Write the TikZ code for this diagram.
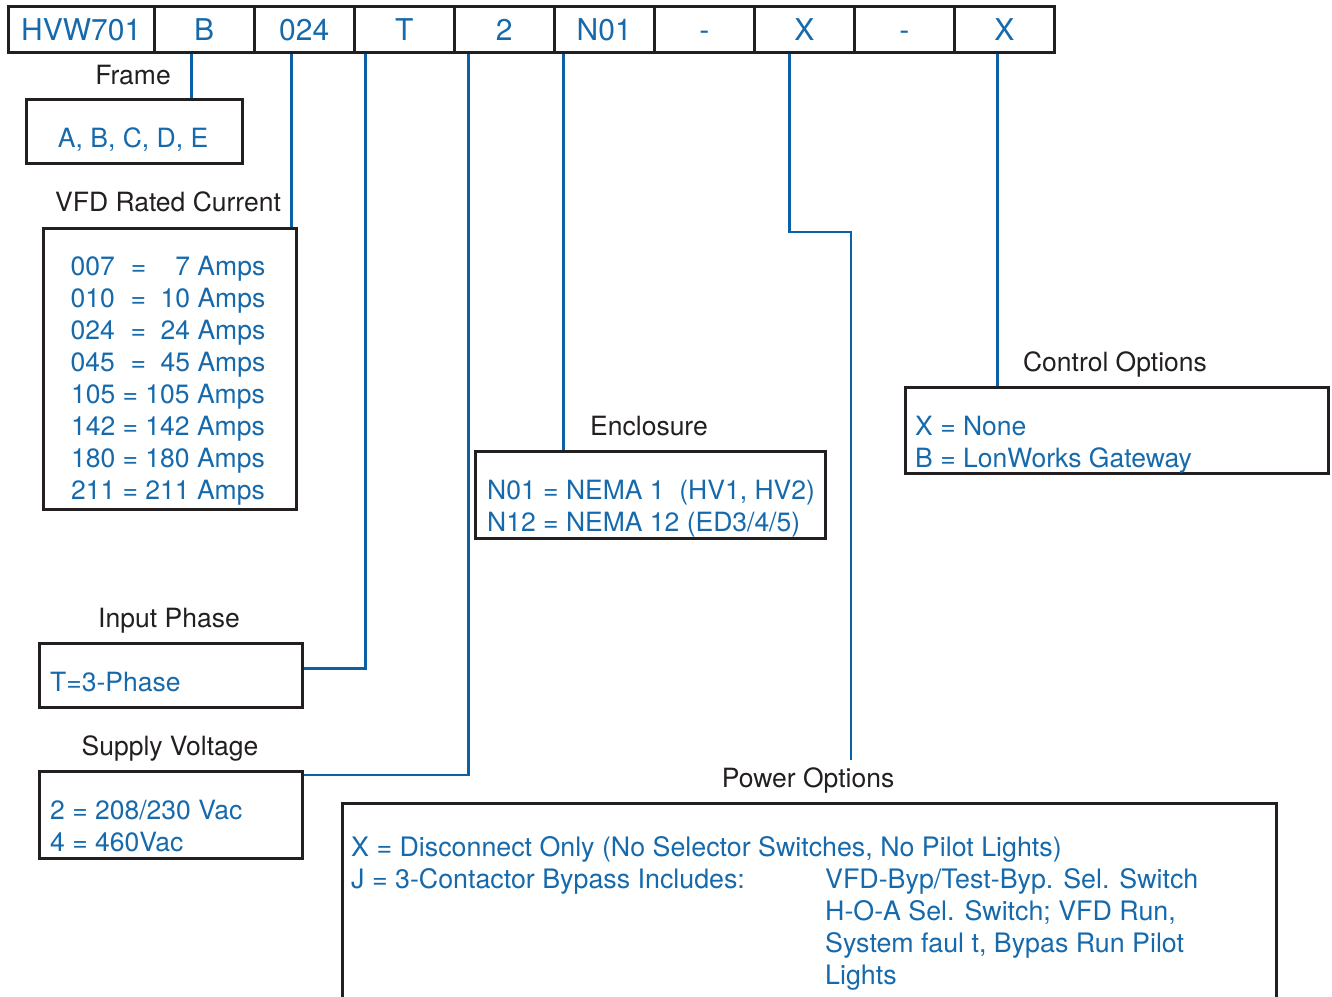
\documentclass[tikz,border=0pt]{standalone}
\usepackage{fontspec}
\setmainfont{TeX Gyre Heros}
\usetikzlibrary{positioning}
\definecolor{codeblue}{RGB}{22,106,172}
\definecolor{lineblue}{RGB}{12,96,166}
\definecolor{framegray}{RGB}{35,31,32}

\tikzset{
  cell/.style={draw=framegray, line width=2.5pt, minimum height=46pt, minimum width=100pt,
    inner sep=0pt, text height=21.5pt, text depth=0pt, anchor=north west, text=codeblue,
    font=\fontsize{30}{30}\selectfont},
  optbox/.style={draw=framegray, line width=2.5pt, inner sep=0pt, anchor=north west},
  title/.style={anchor=base, inner sep=0pt, text=framegray, font=\fontsize{26.5}{26.5}\selectfont},
  entry/.style={anchor=base west, inner sep=0pt, text=codeblue, font=\fontsize{26.5}{26.5}\selectfont},
  powentry/.style={entry, font=\fontsize{26.8}{26.8}\selectfont},
  link/.style={draw=lineblue, line width=2.5pt},
}

\begin{document}
\begin{tikzpicture}[x=1pt,y=-1pt]
  \useasboundingbox (0,0) rectangle (1332,996);
  % Kopfzeile mit den Feldern der Typenbezeichnung
  \node[cell, minimum width=146pt] (c0) at (7,5) {HVW701};
  \foreach \t [count=\i] in {B,024,T,2,N01,-,X,-,X}
    \node[cell] (c\i) at (53+100*\i,5) {\t};

  % Frame
  \node[title] (frametitle) at (133,84) {Frame};
  \node[optbox, minimum width=216pt, minimum height=64pt] (frame) at (25,98) {};
  \node[title, text=codeblue] (frametext) at (133,147) {A, B, C, D, E};

  % VFD Rated Current
  \node[title] (currtitle) at (168,211) {VFD Rated Current};
  \node[optbox, minimum width=253pt, minimum height=281pt] (current) at (42,227) {};
  \foreach \t [count=\i] in {
      007\hspace{0.6em}=\hspace{1.1em}7 Amps,
      010\hspace{0.6em}=\hspace{0.55em}10 Amps,
      024\hspace{0.6em}=\hspace{0.55em}24 Amps,
      045\hspace{0.6em}=\hspace{0.55em}45 Amps,
      105 = 105 Amps,142 = 142 Amps,180 = 180 Amps,211 = 211 Amps}
    \node[title, text=codeblue] (curr\i) at (168,243+32*\i) {\t};

  % Input Phase
  \node[title] (phasetitle) at (169,627) {Input Phase};
  \node[optbox, minimum width=263pt, minimum height=64pt] (phase) at (38,642) {};
  \node[entry] (phasetext) at (50,691) {T=3-Phase};

  % Supply Voltage
  \node[title] (volttitle) at (170,755) {Supply Voltage};
  \node[optbox, minimum width=263pt, minimum height=87pt] (voltage) at (38,770) {};
  \node[entry] (volt1) at (50,819) {2 = 208/230 Vac};
  \node[entry] (volt2) at (50,851) {4 = 460Vac};

  % Enclosure
  \node[title] (encltitle) at (649,435) {Enclosure};
  \node[optbox, minimum width=350pt, minimum height=87pt] (encl) at (474,450) {};
  \node[entry] (encl1) at (487,499) {N01 = NEMA 1\ \ (HV1, HV2)};
  \node[entry] (encl2) at (487,531) {N12 = NEMA 12 (ED3/4/5)};

  % Control Options
  \node[title] (ctrltitle) at (1115,371) {Control Options};
  \node[optbox, minimum width=423pt, minimum height=86pt] (ctrl) at (904,386) {};
  \node[entry] (ctrl1) at (915,435) {X = None};
  \node[entry] (ctrl2) at (915,467) {B = LonWorks Gateway};

  % Power Options (Kasten laeuft unten aus dem Bild)
  \node[title] (powtitle) at (808,787) {Power Options};
  \node[optbox, minimum width=934pt, minimum height=230pt] (power) at (341,802) {};
  \node[powentry] (pow1) at (351,856)
    {X = Disconnect Only (No Selector Switches, No Pilot Lights)};
  \node[powentry] (pow2) at (351,888) {J = 3-Contactor Bypass Includes:};
  \foreach \t [count=\i] in {VFD-Byp/Test-Byp. Sel. Switch,
      {H-O-A Sel. Switch; VFD Run,},{System faul t, Bypas Run Pilot},Lights}
    \node[powentry] (powj\i) at (825,856+32*\i) {\t};

  % Verbindungslinien von den Feldern zu den Kaesten
  \coordinate (pbend) at (851,232);
  \coordinate (pend) at (851,760);
  \draw[link] ([xshift=-13pt]c1.south) -- ([xshift=-13pt]c1.south |- frame.north);
  \draw[link] ([xshift=-13pt]c2.south) -- ([xshift=-13pt]c2.south |- current.north);
  \draw[link] ([xshift=-39pt]c3.south) |- ([yshift=7pt]phase.east);
  \draw[link] ([xshift=-36pt]c4.south) |- ([yshift=-5pt]voltage.north east);
  \draw[link] ([xshift=-41pt]c5.south) -- ([xshift=-41pt]c5.south |- encl.north);
  \draw[link] ([xshift=-15pt]c7.south) |- (pbend) -- (pend);
  \draw[link] ([xshift=-7pt]c9.south) -- ([xshift=-7pt]c9.south |- ctrl.north);
\end{tikzpicture}
\end{document}
